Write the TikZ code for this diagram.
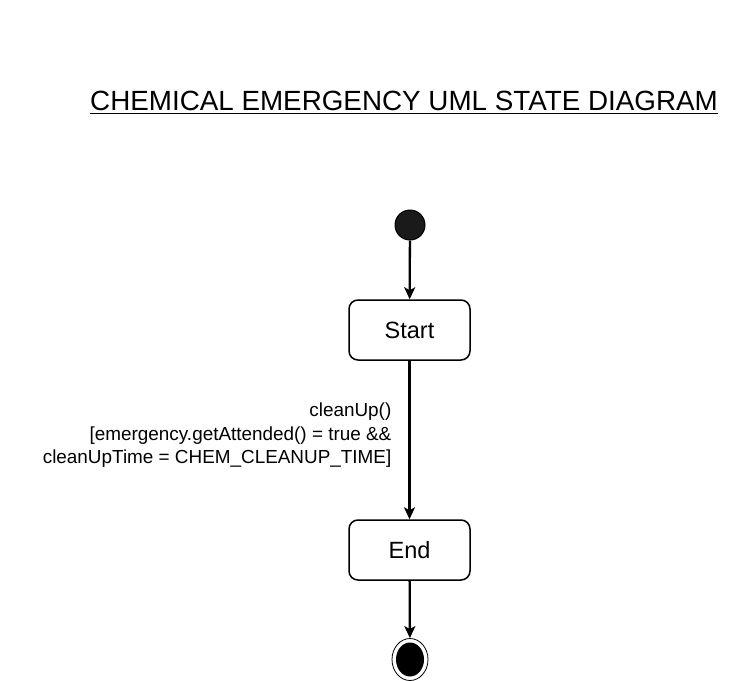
\documentclass[tikz,border=0pt]{standalone}
\usepackage{fontspec}
\setmainfont{Liberation Sans}
\usetikzlibrary{arrows.meta,shapes.geometric}
\definecolor{initfill}{HTML}{1A1A1A}
\begin{document}
\begin{tikzpicture}[x=1pt,y=-1pt,
  statebox/.style={draw=black, line width=1.5pt, rounded corners=9pt, minimum width=121pt, minimum height=60pt, inner sep=0pt, font=\fontsize{23.5}{28}\selectfont},
  conn/.style={line width=2.3pt, -{Stealth[length=12pt,width=11pt,inset=3pt]}},
  lbl/.style={font=\fontsize{18.9}{23.5}\selectfont, align=right, inner sep=0pt}
]
\useasboundingbox (0,0) rectangle (736,680);
\fill[white] (0,0) rectangle (736,680);
% title
\node[anchor=base west, inner sep=0pt, font=\fontsize{27.8}{33}\selectfont] (title) at (90,110) {CHEMICAL EMERGENCY UML STATE DIAGRAM~};
\draw[line width=1.5pt] ([yshift=-3.5pt]title.base west) -- ([yshift=-3.5pt]title.base east);
% initial
\node[circle, draw=black, line width=1pt, fill=initfill, minimum size=30pt, inner sep=0pt] (init) at (410,225) {};
% states
\node[statebox] (start) at (409.5,330) {Start};
\node[statebox] (end) at (409.5,550) {End};
% final
\node[ellipse, draw=black, line width=0.8pt, fill=white, minimum width=36pt, minimum height=42pt, inner sep=0pt] (final) at (410,659.5) {};
\node[ellipse, fill=black, minimum width=28pt, minimum height=34pt, inner sep=0pt] (finalin) at (final.center) {};
% connectors
\draw[conn] (init) -- (start);
\draw[conn] (start) -- node[lbl, anchor=east, pos=0.47, xshift=-17pt] {cleanUp()\\{[}emergency.getAttended() = true \&\&\\cleanUpTime = CHEM\_CLEANUP\_TIME]} (end);
\draw[conn] (end) -- (final);
\end{tikzpicture}
\end{document}
